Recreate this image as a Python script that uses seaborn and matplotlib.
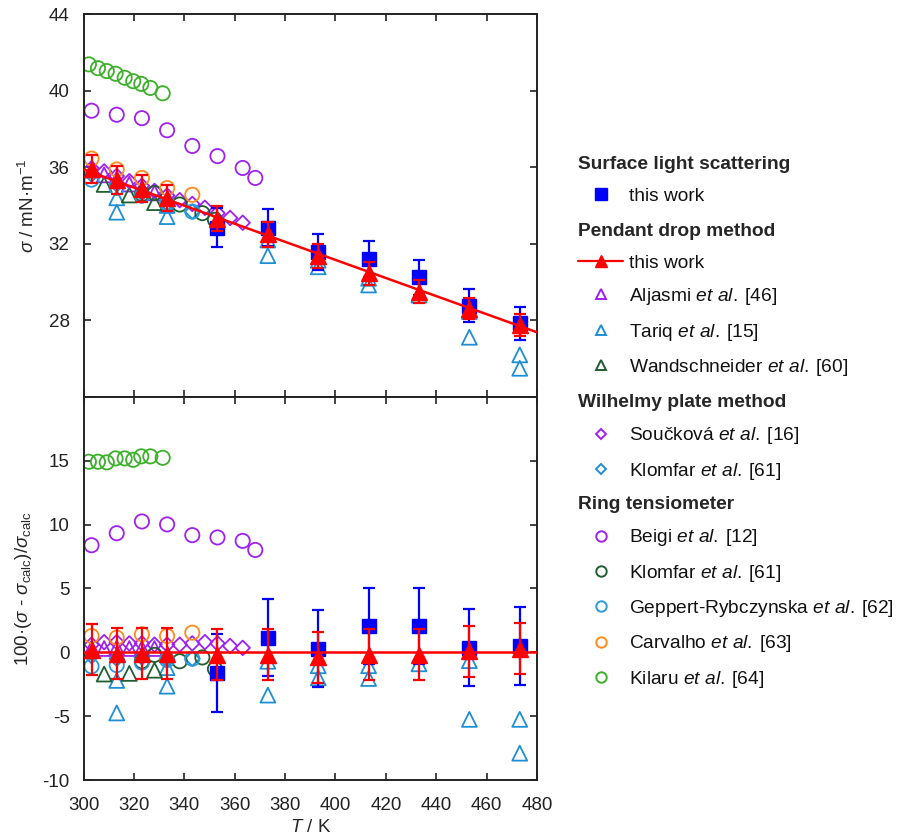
import numpy as np
import matplotlib
matplotlib.use("Agg")
import matplotlib.pyplot as plt
import seaborn as sns
from matplotlib.lines import Line2D

# ---------------- data ----------------
# correlation line (this work, pendant drop), end points
T_fit = [300.0, 480.0]
sig_fit = [35.88, 27.38]
dev_fit = [0.0, 0.0]

# Surface light scattering, this work
T_sls = [353.15, 373.15, 393.15, 413.15, 433.15, 453.15, 473.15]
sig_sls = [32.85, 32.84, 31.58, 31.20, 30.25, 28.77, 27.84]
sig_sls_err = [1.00, 0.98, 0.95, 0.93, 0.90, 0.87, 0.84]
dev_sls = [-1.60, 1.15, 0.30, 2.07, 2.07, 0.37, 0.50]
dev_sls_err = [3.05, 3.00, 3.00, 3.00, 3.00, 3.00, 3.05]

# Pendant drop, this work
T_pd = [303.15, 313.15, 323.15, 333.15, 353.15, 373.15, 393.15, 413.15, 433.15, 453.15, 473.15]
sig_pd = [35.90, 35.33, 34.88, 34.38, 33.32, 32.50, 31.35, 30.45, 29.50, 28.62, 27.76]
sig_pd_err = [0.72, 0.71, 0.70, 0.69, 0.67, 0.65, 0.63, 0.61, 0.59, 0.57, 0.56]
dev_pd = [0.20, -0.10, -0.10, -0.10, -0.20, -0.20, -0.40, -0.20, -0.20, 0.10, 0.30]
dev_pd_err = [2.0, 2.0, 2.0, 2.0, 2.0, 2.0, 2.0, 2.0, 2.0, 2.0, 2.0]

# Aljasmi et al. [46]
T_alj = [303.15, 308.15, 313.15, 318.15, 323.15, 328.15]
sig_alj = [35.85, 35.60, 35.38, 35.12, 34.90, 34.66]
dev_alj = [0.30, 0.30, 0.35, 0.30, 0.30, 0.30]

# Tariq et al. [15]
T_tar = [313.15, 313.15, 333.15, 333.15, 373.15, 373.15, 393.15, 393.15,
         413.15, 413.15, 433.15, 453.15, 453.15, 473.15, 473.15]
sig_tar = [34.40, 33.65, 34.00, 33.42, 32.20, 31.38, 31.14, 30.80,
           30.20, 29.85, 29.32, 28.46, 27.12, 26.20, 25.50]
dev_tar = [-2.20, -4.75, -1.20, -2.65, -0.70, -3.35, -1.05, -2.00,
           -1.05, -2.05, -0.90, -0.65, -5.25, -5.25, -7.90]

# Wandschneider et al. [60]
T_wan = [308.15, 318.15, 328.15]
sig_wan = [35.10, 34.55, 34.15]
dev_wan = [-1.70, -1.65, -1.40]

# Souckova et al. [16] (Wilhelmy)
T_sou = [303.15, 308.15, 313.15, 318.15, 323.15, 328.15, 333.15, 338.15,
         343.15, 348.15, 353.15, 358.15, 363.15]
sig_sou = [35.94, 35.78, 35.54, 35.27, 35.03, 34.76, 34.52, 34.28,
           34.08, 33.88, 33.60, 33.35, 33.10]
dev_sou = [0.60, 0.80, 0.80, 0.70, 0.70, 0.60, 0.60, 0.60,
           0.70, 0.80, 0.70, 0.50, 0.35]

# Klomfar et al. [61] (Wilhelmy)
T_klw = [303.15, 313.15, 323.15, 333.15, 343.15]
sig_klw = [35.62, 35.10, 34.65, 34.10, 33.68]
dev_klw = [-0.30, -0.50, -0.40, -0.60, -0.50]

# Beigi et al. [12]
T_bei = [303.15, 313.15, 323.15, 333.15, 343.15, 353.15, 363.15, 368.15]
sig_bei = [38.95, 38.74, 38.56, 37.93, 37.11, 36.58, 35.96, 35.44]
dev_bei = [8.39, 9.33, 10.25, 10.02, 9.18, 9.00, 8.73, 8.02]

# Klomfar et al. [61] (ring)
T_klr = [323.15, 328.15, 338.15, 347.15, 352.15]
sig_klr = [34.60, 34.65, 34.05, 33.60, 33.25]
dev_klr = [-0.70, -0.20, -0.70, -0.40, -1.30]

# Geppert-Rybczynska et al. [62]
T_gep = [303.15, 313.15, 323.15, 333.15, 343.15]
sig_gep = [35.35, 34.92, 34.51, 34.11, 33.68]
dev_gep = [-1.10, -1.00, -0.80, -0.60, -0.50]

# Carvalho et al. [63]
T_car = [303.15, 313.15, 323.15, 333.15, 343.15]
sig_car = [36.45, 35.88, 35.44, 34.91, 34.56]
dev_car = [1.28, 1.15, 1.41, 1.28, 1.54]

# Kilaru et al. [64]
T_kil = [302.1, 305.7, 309.2, 312.7, 316.3, 319.7, 322.9, 326.5, 331.4]
sig_kil = [41.37, 41.17, 41.02, 40.88, 40.67, 40.49, 40.35, 40.14, 39.86]
dev_kil = [14.93, 14.93, 14.88, 15.19, 15.19, 15.08, 15.35, 15.35, 15.24]

x_ticks = [300, 320, 340, 360, 380, 400, 420, 440, 460, 480]
top_ticks = [24, 28, 32, 36, 40, 44]
top_labels = ["", "28", "32", "36", "40", "44"]
bot_ticks = [-10, -5, 0, 5, 10, 15, 20]
bot_labels = ["-10", "-5", "0", "5", "10", "15", ""]

# ---------------- style ----------------
sns.set_theme(style="ticks")
plt.rcParams['font.family'] = ['Liberation Sans', 'DejaVu Sans']
plt.rcParams['mathtext.fontset'] = 'custom'
plt.rcParams['mathtext.rm'] = 'Liberation Sans'
plt.rcParams['mathtext.it'] = 'Liberation Sans:italic'
plt.rcParams['mathtext.bf'] = 'Liberation Sans:bold'

C_BLUE = "#0000FF"
C_RED = "#FF0000"
C_PURPLE = "#A020F0"
C_TARIQ = "#1E8FD5"
C_DKGREEN = "#1F5E30"
C_GEP = "#2A9AD8"
C_ORANGE = "#FF8C1A"
C_GREEN = "#3CB02A"
FS = 13.5
LFS = 13.8

W, H = 898, 838
fig = plt.figure(figsize=(W / 100, H / 100), dpi=100)
x0, x1 = 83.6 / W, 537.0 / W
yt, ym, yb = 1 - 14 / H, 1 - 397 / H, 1 - 780 / H
ax1 = fig.add_axes([x0, ym, x1 - x0, yt - ym])
ax2 = fig.add_axes([x0, yb, x1 - x0, ym - yb])

lit = [
    (T_alj, sig_alj, dev_alj, "^", C_PURPLE, 115),
    (T_tar, sig_tar, dev_tar, "^", C_TARIQ, 115),
    (T_wan, sig_wan, dev_wan, "^", C_DKGREEN, 115),
    (T_sou, sig_sou, dev_sou, "D", C_PURPLE, 55),
    (T_klw, sig_klw, dev_klw, "D", C_TARIQ, 55),
    (T_bei, sig_bei, dev_bei, "o", C_PURPLE, 105),
    (T_klr, sig_klr, dev_klr, "o", C_DKGREEN, 105),
    (T_gep, sig_gep, dev_gep, "o", C_GEP, 105),
    (T_car, sig_car, dev_car, "o", C_ORANGE, 105),
    (T_kil, sig_kil, dev_kil, "o", C_GREEN, 105),
]

for T, s, d, m, c, sz in lit:
    sns.scatterplot(x=T, y=s, ax=ax1, marker=m, s=sz, facecolor="none",
                    edgecolor=c, linewidth=1.3, zorder=2, clip_on=True)
    sns.scatterplot(x=T, y=d, ax=ax2, marker=m, s=sz, facecolor="none",
                    edgecolor=c, linewidth=1.3, zorder=2, clip_on=True)

for ax, ys, ye, ds, de, fy in [(ax1, sig_sls, sig_sls_err, sig_pd, sig_pd_err, sig_fit),
                               (ax2, dev_sls, dev_sls_err, dev_pd, dev_pd_err, dev_fit)]:
    ax.errorbar(T_sls, ys, yerr=ye, fmt="s", color=C_BLUE, ms=10.5,
                mec=C_BLUE, ecolor=C_BLUE, elinewidth=1.6, capsize=4.5,
                capthick=1.6, zorder=4)
    sns.lineplot(x=T_fit, y=fy, ax=ax, color=C_RED, linewidth=1.8, zorder=5)
    ax.errorbar(T_pd, ds, yerr=de, fmt="^", color=C_RED, ms=11,
                mec=C_RED, ecolor=C_RED, elinewidth=1.6, capsize=4.5,
                capthick=1.6, zorder=6)

for ax in (ax1, ax2):
    ax.set_xlim(300, 480)
    ax.set_xticks(x_ticks)
    ax.tick_params(direction="in", length=5, width=1.2, top=True, right=True,
                   labelsize=FS, colors="#222222")
    ax.tick_params(axis="y", pad=10)
    ax.tick_params(axis="x", pad=12)
    for sp in ax.spines.values():
        sp.set_linewidth(1.4)
        sp.set_color("#222222")
    ax.set_facecolor("white")

ax1.set_ylim(24, 44)
ax1.set_yticks(top_ticks)
ax1.set_yticklabels(top_labels)
ax1.tick_params(labelbottom=False)
ax1.set_xlabel("")
ax1.set_ylabel(r"$\sigma$ / mN·m$^{-1}$", fontsize=FS, labelpad=8)

ax2.set_ylim(-10, 20)
ax2.set_yticks(bot_ticks)
ax2.set_yticklabels(bot_labels)
ax2.set_xticklabels([str(t) for t in x_ticks])
ax2.set_xlabel(r"$T$ / K", fontsize=FS, labelpad=4)
ax2.set_ylabel(r"100·($\sigma$ - $\sigma_{\rm calc}$)/$\sigma_{\rm calc}$",
               fontsize=FS, labelpad=6)

# ---------------- legends ----------------
def hollow(m, c, ms):
    return Line2D([], [], linestyle="none", marker=m, ms=ms, mfc="none",
                  mec=c, mew=1.4)

SP = "\u2009"
groups = [
    ("Surface light scattering", 156,
     [(Line2D([], [], linestyle="none", marker="s", ms=8.5, color=C_BLUE), "this work")]),
    ("Pendant drop method", 223,
     [(Line2D([], [], color=C_RED, lw=1.6, marker="^", ms=9), "this work"),
      (hollow("^", C_PURPLE, 7.5), r"Aljasmi $\it{et\ al.}$" + SP + "[46]"),
      (hollow("^", C_TARIQ, 7.5), r"Tariq $\it{et\ al.}$" + SP + "[15]"),
      (hollow("^", C_DKGREEN, 7.5), r"Wandschneider $\it{et\ al.}$" + SP + "[60]")]),
    ("Wilhelmy plate method", 394,
     [(hollow("D", C_PURPLE, 5.6), r"Součková $\it{et\ al.}$" + SP + "[16]"),
      (hollow("D", C_TARIQ, 5.6), r"Klomfar $\it{et\ al.}$" + SP + "[61]")]),
    ("Ring tensiometer", 496,
     [(hollow("o", C_PURPLE, 7.5), r"Beigi $\it{et\ al.}$" + SP + "[12]"),
      (hollow("o", C_DKGREEN, 7.5), r"Klomfar $\it{et\ al.}$" + SP + "[61]"),
      (hollow("o", C_GEP, 7.5), r"Geppert-Rybczynska $\it{et\ al.}$" + SP + "[62]"),
      (hollow("o", C_ORANGE, 7.5), r"Carvalho $\it{et\ al.}$" + SP + "[63]"),
      (hollow("o", C_GREEN, 7.5), r"Kilaru $\it{et\ al.}$" + SP + "[64]")]),
]

for title, ytop, items in groups:
    hs = [h for h, _ in items]
    ls = [l for _, l in items]
    leg = fig.legend(hs, ls, loc="upper left",
                     bbox_to_anchor=(578 / W, 1 - ytop / H),
                     frameon=False, fontsize=LFS, title=title,
                     title_fontproperties={"weight": "bold", "size": LFS},
                     alignment="left", borderpad=0, borderaxespad=0,
                     handlelength=2.35, handletextpad=0.3, labelspacing=0.75,
                     numpoints=1)
    for t in leg.get_texts():
        t.set_color("#111111")

fig.savefig("out.png", dpi=100, facecolor="white")
